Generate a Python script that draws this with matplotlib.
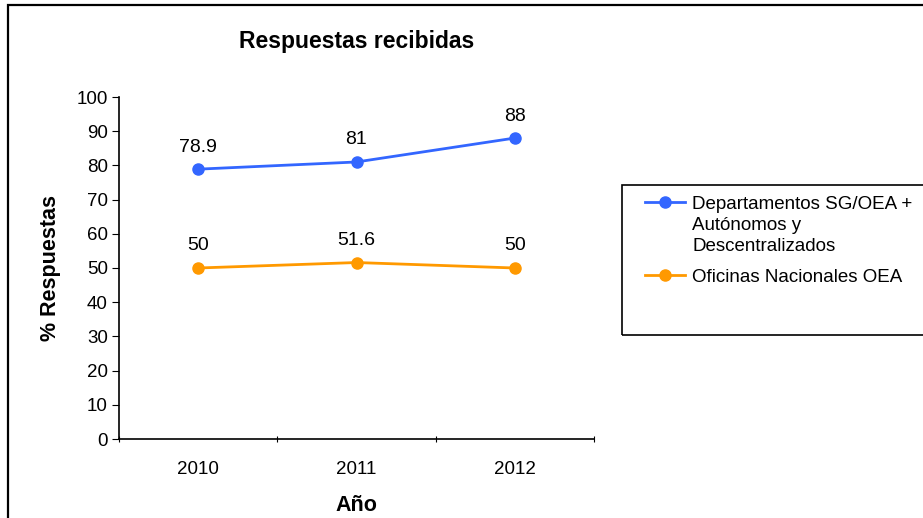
import matplotlib
matplotlib.use("Agg")
import matplotlib.pyplot as plt
from matplotlib.patches import Rectangle
from matplotlib.lines import Line2D

plt.rcParams['font.family'] = ['Liberation Sans', 'DejaVu Sans']

# data
years = ['2010', '2011', '2012']
dept_values = [78.9, 81, 88]
ofic_values = [50, 51.6, 50]
dept_label = 'Departamentos SG/OEA +\nAutónomos y\nDescentralizados'
ofic_label = 'Oficinas Nacionales OEA'
y_ticks = list(range(0, 101, 10))

W, H = 923, 518
fig = plt.figure(figsize=(W / 100, H / 100), dpi=100)

# outer chart frame (cut off on right and bottom like the source)
fig.patches.append(Rectangle((8 / W, -0.05), 1.05, 1 - 5 / H + 0.05,
                             transform=fig.transFigure, fill=False,
                             edgecolor='black', linewidth=1.6))

ax = fig.add_axes([119 / W, 1 - 439 / H, (594 - 119) / W, (439 - 97) / H])

x = list(range(len(years)))
series = [(dept_values, '#3366FF', dept_label), (ofic_values, '#FF9900', ofic_label)]
for vals, col, _ in series:
    ax.plot(x, vals, color=col, marker='o', markersize=8, linewidth=2)
    for xi, v in zip(x, vals):
        ax.annotate(f'{v:g}', (xi, v), textcoords='offset pixels', xytext=(0, 22),
                    ha='center', va='center', fontsize=14)

ax.set_xlim(-0.5, len(years) - 0.5)
ax.set_ylim(0, 100)
ax.set_yticks(y_ticks)
ax.set_xticks([i - 0.5 for i in range(len(years) + 1)])
ax.set_xticklabels([])
ax.set_xticks(x, minor=True)
ax.set_xticklabels(years, minor=True, fontsize=13.5)
ax.tick_params(axis='x', which='minor', length=0, pad=16)
ax.tick_params(axis='x', which='major', length=5, direction='inout')
ax.tick_params(axis='y', length=5, direction='out', labelsize=13.5, pad=3)

for s in ['top', 'right']:
    ax.spines[s].set_visible(False)
ax.spines['left'].set_linewidth(1.2)
ax.spines['bottom'].set_linewidth(1.2)

ax.set_title('Respuestas recibidas', fontsize=16.5, fontweight='bold', pad=35)
ax.set_xlabel('Año', fontsize=15.5, fontweight='bold', labelpad=12)
ax.set_ylabel('% Respuestas', fontsize=15.5, fontweight='bold', labelpad=11)

# legend box, Excel style: marker aligned with the first text line
fig.patches.append(Rectangle((622 / W, 1 - 335 / H), 0.5, (335 - 185) / H,
                             transform=fig.transFigure, fill=False,
                             edgecolor='black', linewidth=1.2))
entry_y = [202, 275]
for (_, col, label), yp in zip(series, entry_y):
    yf = 1 - yp / H
    fig.add_artist(Line2D([645 / W, 685 / W], [yf, yf], color=col, linewidth=2))
    fig.add_artist(Line2D([665 / W], [yf], color=col, marker='o', markersize=8))
    fig.text(692 / W, 1 - (yp - 6) / H, label, fontsize=13.5, va='top', ha='left',
             linespacing=1.3)

fig.savefig('out.png', dpi=100)
